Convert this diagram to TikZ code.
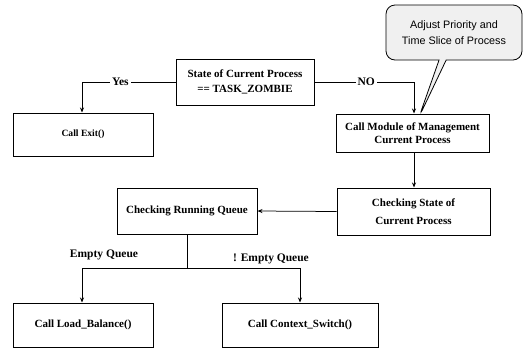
\documentclass[tikz,border=0pt]{standalone}
\usepackage{fontspec}
\setmainfont{Liberation Serif}
\newfontfamily\notefont{Liberation Sans}
\usetikzlibrary{arrows.meta, shapes.callouts}

\tikzset{
  procbox/.style={draw, line width=1pt, align=center, inner sep=2pt,
    font=\fontsize{11}{14}\selectfont\bfseries},
  flow/.style={line width=0.75pt},
  arr/.style={flow, -{Stealth[length=5pt, width=4pt]}},
  lbl/.style={fill=white, inner sep=2pt, font=\fontsize{11.5}{13}\selectfont\bfseries}
}

\begin{document}
\begin{tikzpicture}[x=1pt, y=-1pt]
    \useasboundingbox (0,0) rectangle (532,349);

    % boxes
    \node[procbox, minimum width=138pt, minimum height=46pt, font=\fontsize{11}{15}\selectfont\bfseries] (state) at (245, 82) {State of Current Process\\== TASK\_ZOMBIE};
    \node[procbox, minimum width=140pt, minimum height=43pt, font=\fontsize{9.6}{12}\selectfont\bfseries] (callexit) at (83, 134.5) {Call Exit()};
    \node[procbox, minimum width=153pt, minimum height=38pt, font=\fontsize{11}{12.5}\selectfont\bfseries] (module) at (412.5, 133) {Call Module of Management\\Current Process};
    \node[procbox, minimum width=153pt, minimum height=47pt, font=\fontsize{11}{18}\selectfont\bfseries] (checkstate) at (413.5, 211.5) {Checking State of\\Current Process};
    \node[procbox, minimum width=140pt, minimum height=46pt] (runqueue) at (187, 211) {Checking Running Queue};
    \node[procbox, minimum width=140pt, minimum height=44pt] (loadbal) at (83, 325) {Call Load\_Balance()};
    \node[procbox, minimum width=156pt, minimum height=44pt] (ctxswitch) at (300, 325) {Call Context\_Switch()};

    % callout
    \node[rectangle callout, draw, rounded corners=9pt, fill=gray!12, line width=0.8pt,
          minimum width=136pt, minimum height=55pt, align=center, inner sep=2pt,
          font=\notefont\fontsize{10.8}{16}\selectfont,
          callout absolute pointer={(419,117)}] (note) at (454, 32.5) {Adjust Priority and\\Time Slice of Process};

    % decision
    \coordinate (yesbend) at (82, 82);
    \coordinate (nobend) at (414, 82);
    \draw[arr] (state.west) -- node[lbl, pos=0.59] {Yes} (yesbend) -- (yesbend |- callexit.north);
    \draw[arr] (state.east) -- node[lbl, pos=0.52] {NO} (nobend) -- (nobend |- module.north);

    % right column
    \draw[arr] (module.south -| nobend) -- (checkstate.north -| nobend);
    \draw[arr] (checkstate.west) -- (runqueue.east);

    % queue split
    \coordinate (split) at (187, 268);
    \draw[flow] (runqueue.south) -- (split);
    \draw[arr] (split) -| ([xshift=-1pt]loadbal.north);
    \draw[arr] (split) -| (ctxswitch.north);
    \node[lbl, fill=none] (emptylbl) at (104, 255) {Empty Queue};
    \node[lbl, fill=none] (notemptylbl) at (271, 258.5) {! Empty Queue};
\end{tikzpicture}
\end{document}
